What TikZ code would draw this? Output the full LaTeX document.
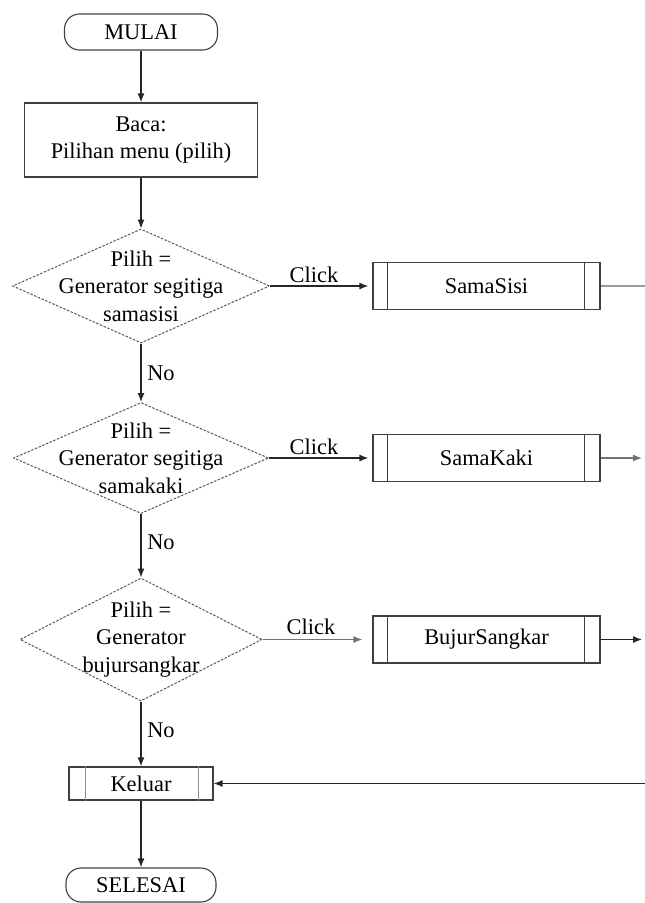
\documentclass[tikz,border=0pt]{standalone}
\usepackage{fontspec}
\setmainfont{Liberation Serif}
\usetikzlibrary{shapes.geometric,arrows.meta}
\begin{document}
\begin{tikzpicture}[x=1pt,y=-1pt,
  font=\fontsize{22.4}{27.5}\selectfont,
  line/.style={draw=black!85, line width=1.2pt},
  arr/.style={line, -{Latex[length=9pt,width=7pt]}},
  terminal/.style={draw=black!75, line width=1.1pt, rounded corners=15pt, inner sep=0pt},
  box/.style={draw=black!75, line width=1.1pt, inner sep=0pt, align=center},
  decision/.style={diamond, draw=black!65, line width=1pt, dash pattern=on 2.5pt off 1.5pt, inner sep=0pt},
  subproc/.style={draw=black!75, line width=1.1pt, inner sep=0pt, minimum width=227pt, minimum height=47pt},
  lbl/.style={inner sep=0pt}
]
\useasboundingbox (0,0) rectangle (645,903);

% main column
\node[terminal, minimum width=153pt, minimum height=36pt] (mulai) at (141,32) {MULAI};
\node[box, minimum width=233pt, minimum height=74pt] (baca) at (141,140) {Baca:\\Pilihan menu (pilih)};
\node[decision, minimum width=257pt, minimum height=114pt,
  label={[align=center, inner sep=0pt]center:Pilih =\\Generator segitiga\\samasisi}] (d1) at (141,286) {};
\node[decision, minimum width=255pt, minimum height=111pt,
  label={[align=center, inner sep=0pt]center:Pilih =\\Generator segitiga\\samakaki}] (d2) at (141,458) {};
\node[decision, minimum width=242pt, minimum height=123pt,
  label={[align=center, inner sep=0pt]center:Pilih =\\Generator\\bujursangkar}] (d3) at (141,639.5) {};
\node[box, minimum width=144pt, minimum height=33pt] (keluar) at (141,783.5) {Keluar};
\node[terminal, minimum width=150pt, minimum height=34pt] (selesai) at (141,885) {SELESAI};

% sub-process boxes
\node[subproc] (s1) at (486.5,286) {SamaSisi};
\node[subproc] (s2) at (486.5,458) {SamaKaki};
\node[subproc] (s3) at (486.5,639.5) {BujurSangkar};

% inner bars of the predefined-process boxes
\foreach \n in {s1,s2,s3}{
  \draw[black!75, line width=1.1pt] ([xshift=15pt]\n.north west) -- ([xshift=15pt]\n.south west);
  \draw[black!75, line width=1.1pt] ([xshift=-16pt]\n.north east) -- ([xshift=-16pt]\n.south east);
}
\draw[black!45, line width=0.9pt] ([xshift=17pt]keluar.north west) -- ([xshift=17pt]keluar.south west);
\draw[black!45, line width=0.9pt] ([xshift=-15pt]keluar.north east) -- ([xshift=-15pt]keluar.south east);

% flow down the main column
\draw[arr] (mulai) -- (baca);
\draw[arr] (baca) -- (d1);
\draw[arr] (d1) -- (d2);
\draw[arr] (d2) -- (d3);
\draw[arr] (d3) -- (keluar);
\draw[arr] (keluar) -- (selesai);

\node[lbl] (no1) at (161,373) {No};
\node[lbl] (no2) at (161,542) {No};
\node[lbl] (no3) at (161,730) {No};

% "Click" branches
\draw[arr, shorten >=4pt] (d1.east) -- (s1.west);
\draw[arr, shorten >=4pt] (d2.east) -- (s2.west);
\draw[arr, draw=black!55, shorten >=10pt] (d3.east) -- (s3.west);
\node[lbl] (c1) at (314,275) {Click};
\node[lbl] (c2) at (314,447) {Click};
\node[lbl] (c3) at (311,627) {Click};

% connectors leaving on the right
\coordinate (r1) at (645,286);
\coordinate (r2) at (642,458);
\coordinate (r3) at (642,639.5);
\coordinate (r4) at (645,783.5);
\draw[draw=black!40, line width=1.1pt] (s1.east) -- (r1);
\draw[arr, draw=black!55] (s2.east) -- (r2);
\draw[arr] (s3.east) -- (r3);
\draw[arr] (r4) -- (keluar.east);
\end{tikzpicture}
\end{document}
